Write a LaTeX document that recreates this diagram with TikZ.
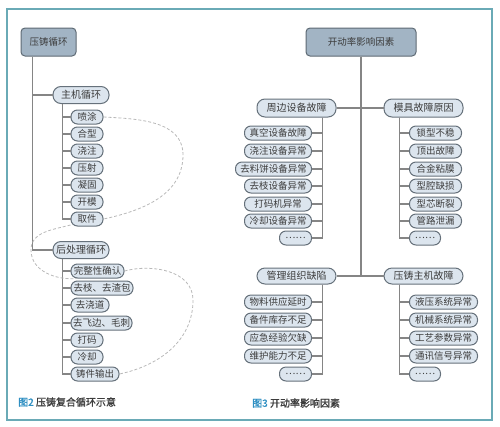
\documentclass[tikz,border=0pt]{standalone}
\usepackage{fontspec}
\setmainfont{Noto Sans CJK SC}
\newfontfamily\capfont[FakeBold=1.3]{Noto Sans CJK SC}
\definecolor{framec}{HTML}{6AAAB6}
\definecolor{rootfill}{HTML}{A2B4C4}
\definecolor{rootborder}{HTML}{5E6A74}
\definecolor{boxfill}{HTML}{DCE5EE}
\definecolor{boxborder}{HTML}{66717B}
\definecolor{linegray}{HTML}{858585}
\definecolor{dashgray}{HTML}{B8B8B8}
\definecolor{textgray}{HTML}{3C3C3C}
\definecolor{capblue}{HTML}{2F8FC2}
\begin{document}
\begin{tikzpicture}[x=1pt,y=-1pt,
  conn/.style={draw=linegray, line width=1.1pt},
  rootbox/.style={draw=rootborder, fill=rootfill, rounded corners=4pt, line width=1pt, minimum height=28pt, inner sep=0pt, text=textgray, font=\fontsize{9.5}{10}\selectfont},
  midbox/.style={draw=boxborder, fill=boxfill, rounded corners=8pt, line width=1pt, minimum height=17pt, inner sep=0pt, text=textgray, font=\fontsize{10}{11}\selectfont},
  leaf/.style={draw=boxborder, fill=boxfill, rounded corners=6.5pt, line width=1pt, minimum height=14pt, inner sep=0pt, text=textgray, font=\fontsize{9.5}{10}\selectfont},
  loopline/.style={draw=dashgray, dash pattern=on 3pt off 2pt, line width=0.8pt},
  caption/.style={anchor=west, inner sep=0pt, text=textgray, font=\capfont\fontsize{10}{11}\selectfont}
]
\useasboundingbox (0,0) rectangle (500,426);
\draw[framec, line width=1.3pt] (7,9) rectangle (492,420);

% ---------- left: 压铸循环 ----------
\node[rootbox, minimum width=55pt] (lroot) at (48.5,42) {压铸循环};
\node[midbox, minimum width=56pt] (zj) at (81,95) {主机循环};
\node[midbox, minimum width=56pt] (hc) at (81,250) {后处理循环};

\node[leaf, minimum width=32pt] (hp) at (87,117) {喷涂};
\node[leaf, minimum width=32pt] (hx) at (87,134) {合型};
\node[leaf, minimum width=32pt] (jz) at (87,151) {浇注};
\node[leaf, minimum width=32pt] (ys) at (87,168) {压射};
\node[leaf, minimum width=32pt] (ng) at (87,185) {凝固};
\node[leaf, minimum width=32pt] (km) at (87,202) {开模};
\node[leaf, minimum width=32pt] (qj) at (87,219) {取件};

\node[leaf, minimum width=53pt] (wz) at (97.5,271) {完整性确认};
\node[leaf, minimum width=62pt] (qz) at (102,288) {去枝、去渣包};
\node[leaf, minimum width=38pt] (qd) at (90,305) {去浇道};
\node[leaf, minimum width=61pt] (qf) at (101.5,323) {去飞边、毛刺};
\node[leaf, minimum width=32pt] (dm) at (87,340) {打码};
\node[leaf, minimum width=32pt] (lq) at (87,357) {冷却};
\node[leaf, minimum width=48pt] (zs) at (95,374) {铸件输出};

\draw[conn] ([xshift=12pt]lroot.south west) |- (zj.west);
\draw[conn] ([xshift=12pt]lroot.south west) |- (hc.west);
\foreach \c in {hp,hx,jz,ys,ng,km,qj}
  \draw[conn] ([xshift=10pt]zj.south west) |- (\c.west);
\foreach \c in {wz,qz,qd,qf,dm,lq,zs}
  \draw[conn] ([xshift=10pt]hc.south west) |- (\c.west);

\coordinate (p1) at (183,155);
\coordinate (p2) at (31,250);
\coordinate (p3) at (193,300);
\draw[loopline] (hp.east) to[out=-3,in=90] (p1) to[out=-90,in=12] (qj.east);
\draw[loopline] (qj.200) to[out=195,in=90] (p2) to[out=-90,in=185] (wz.200);
\draw[loopline] (wz.east) to[out=15,in=90] (p3) to[out=-90,in=12] (zs.east);

\node[caption] (cap2) at (18,402) {\textcolor{capblue}{图2} 压铸复合循环示意};

% ---------- right: 开动率影响因素 ----------
\node[rootbox, minimum width=110pt] (rroot) at (361,42) {开动率影响因素};
\node[midbox, minimum width=79pt, minimum height=18pt] (zb) at (296.5,108) {周边设备故障};
\node[midbox, minimum width=79pt, minimum height=18pt] (mj) at (423.5,108) {模具故障原因};
\node[midbox, minimum width=79pt, minimum height=16pt] (gl) at (296.5,276) {管理组织缺陷};
\node[midbox, minimum width=79pt, minimum height=16pt] (yz) at (423.5,276) {压铸主机故障};

\node[leaf, anchor=east, minimum width=67pt] (a1) at (312,133) {真空设备故障};
\node[leaf, anchor=east, minimum width=67pt] (a2) at (312,151) {浇注设备异常};
\node[leaf, anchor=east, minimum width=76pt] (a3) at (312,169) {去料饼设备异常};
\node[leaf, anchor=east, minimum width=67pt] (a4) at (312,186) {去枝设备异常};
\node[leaf, anchor=east, minimum width=67pt] (a5) at (312,204) {打码机异常};
\node[leaf, anchor=east, minimum width=67pt] (a6) at (312,221) {冷却设备异常};
\node[leaf, anchor=east, minimum width=32pt] (a7) at (312,238) {……};

\node[leaf, anchor=west, minimum width=52pt] (b1) at (409,133) {锁型不稳};
\node[leaf, anchor=west, minimum width=52pt] (b2) at (409,151) {顶出故障};
\node[leaf, anchor=west, minimum width=52pt] (b3) at (409,169) {合金粘膜};
\node[leaf, anchor=west, minimum width=52pt] (b4) at (409,186) {型腔缺损};
\node[leaf, anchor=west, minimum width=52pt] (b5) at (409,204) {型芯断裂};
\node[leaf, anchor=west, minimum width=52pt] (b6) at (409,221) {管路泄漏};
\node[leaf, anchor=west, minimum width=31pt] (b7) at (409,238) {……};

\node[leaf, anchor=east, minimum width=67pt] (c1) at (312,302) {物料供应延时};
\node[leaf, anchor=east, minimum width=67pt] (c2) at (312,320) {备件库存不足};
\node[leaf, anchor=east, minimum width=67pt] (c3) at (312,338) {应急经验欠缺};
\node[leaf, anchor=east, minimum width=67pt] (c4) at (312,356) {维护能力不足};
\node[leaf, anchor=east, minimum width=32pt] (c5) at (312,374) {……};

\node[leaf, anchor=west, minimum width=68pt] (d1) at (409,302) {液压系统异常};
\node[leaf, anchor=west, minimum width=68pt] (d2) at (409,320) {机械系统异常};
\node[leaf, anchor=west, minimum width=68pt] (d3) at (409,338) {工艺参数异常};
\node[leaf, anchor=west, minimum width=68pt] (d4) at (409,356) {通讯信号异常};
\node[leaf, anchor=west, minimum width=31pt] (d5) at (409,374) {……};

\draw[conn] (rroot.south) |- (gl.east);
\draw[conn] (rroot.south) |- (yz.west);
\draw[conn] (zb.east) -- (mj.west);
\foreach \c in {a1,a2,a3,a4,a5,a6,a7}
  \draw[conn] ([xshift=-14pt]zb.south east) |- (\c.east);
\foreach \c in {b1,b2,b3,b4,b5,b6,b7}
  \draw[conn] ([xshift=16pt]mj.south west) |- (\c.west);
\foreach \c in {c1,c2,c3,c4,c5}
  \draw[conn] ([xshift=-14pt]gl.south east) |- (\c.east);
\foreach \c in {d1,d2,d3,d4,d5}
  \draw[conn] ([xshift=16pt]yz.south west) |- (\c.west);

\node[caption] (cap3) at (252,403) {\textcolor{capblue}{图3} 开动率影响因素};
\end{tikzpicture}
\end{document}
